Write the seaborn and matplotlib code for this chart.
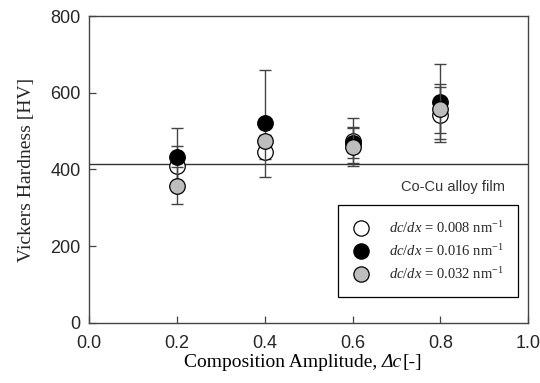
import matplotlib
matplotlib.use("Agg")
import matplotlib.pyplot as plt
import seaborn as sns
import pandas as pd
import numpy as np
from matplotlib.lines import Line2D
from matplotlib.offsetbox import TextArea, HPacker, AnchoredOffsetbox

# ---- data ----
amplitude = [0.2, 0.4, 0.6, 0.8]
series_labels = ["0.008", "0.016", "0.032"]
hv_008 = [410, 445, 475, 543]
err_008 = [50, 18, 58, 72]
hv_016 = [432, 520, 470, 577]
err_016 = [75, 140, 41, 98]
hv_032 = [358, 475, 458, 559]
err_032 = [48, 15, 50, 65]
film_hv = 414
x_ticks = [0.0, 0.2, 0.4, 0.6, 0.8, 1.0]
y_ticks = [0, 200, 400, 600, 800]

sns.set_theme(style="ticks")
plt.rcParams["mathtext.fontset"] = "custom"
plt.rcParams["mathtext.rm"] = "Liberation Serif"
plt.rcParams["mathtext.it"] = "Liberation Serif:italic"

fig = plt.figure(figsize=(5.4, 3.83), dpi=100)
ax = fig.add_axes([0.165, 0.157, 0.813, 0.801])

rows = []
for lab, vals, errs in [("0.008", hv_008, err_008), ("0.016", hv_016, err_016), ("0.032", hv_032, err_032)]:
    for a, v, e in zip(amplitude, vals, errs):
        rows.append({"amp": a, "hv": v, "err": e, "series": lab})
df = pd.DataFrame(rows)

colors = {"0.008": "white", "0.016": "black", "0.032": "#bdbdbd"}
ax.axhline(film_hv, color="#333333", lw=1.0, zorder=1)

z = 3
for lab in series_labels:
    sub = df[df.series == lab]
    ax.errorbar(sub.amp, sub.hv, yerr=sub.err, fmt="none", ecolor="#444444",
                elinewidth=1.0, capsize=4, capthick=1.0, zorder=z)
    sns.scatterplot(data=sub, x="amp", y="hv", ax=ax, color=colors[lab],
                    edgecolor="black", linewidth=0.9, s=125, zorder=z + 1,
                    legend=False)
    z += 2

ax.set_xlim(0, 1.0)
ax.set_ylim(0, 800)
ax.set_xticks(x_ticks)
ax.set_xticklabels([f"{t:.1f}" for t in x_ticks], fontfamily="Liberation Sans", fontsize=13)
ax.set_yticks(y_ticks)
ax.set_yticklabels([str(t) for t in y_ticks], fontfamily="Liberation Sans", fontsize=13)
ax.tick_params(direction="in", length=5, width=0.9, color="#444444")
ax.tick_params(axis="x", pad=9)
ax.tick_params(axis="y", pad=6)
for sp in ax.spines.values():
    sp.set_visible(True)
    sp.set_color("#444444")
    sp.set_linewidth(1.0)

ax.set_xlabel("")
ax.set_ylabel("Vickers Hardness [HV]", fontfamily="Liberation Serif", fontsize=14, labelpad=11)

# x label composed of upright and italic parts
serif = {"family": "Liberation Serif", "size": 14, "color": "black"}
parts = [TextArea("Composition Amplitude, ", textprops=serif),
         TextArea("Δc", textprops=dict(serif, style="italic")),
         TextArea("[-]", textprops=serif)]
box = HPacker(children=parts, align="baseline", pad=0, sep=0)
anch = AnchoredOffsetbox(loc="center", child=box, pad=0, frameon=False,
                         bbox_to_anchor=(0.487, -0.13), bbox_transform=ax.transAxes,
                         borderpad=0)
ax.add_artist(anch)

ax.text(0.948, 0.443, "Co-Cu alloy film", transform=ax.transAxes, ha="right", va="center",
        fontfamily="Liberation Sans", fontsize=10.5, color="#333333")

handles = [Line2D([], [], ls="none", marker="o", markersize=11, markerfacecolor=colors[l],
                  markeredgecolor="black", markeredgewidth=0.9) for l in series_labels]
labels = [rf"$dc/dx$ = {l} nm$^{{-1}}$" for l in series_labels]
leg = ax.legend(handles, labels, loc="lower right", bbox_to_anchor=(0.977, 0.085),
                frameon=True, fancybox=False, edgecolor="black", framealpha=1,
                prop={"family": "Liberation Serif", "size": 10.5}, handletextpad=1.3,
                borderpad=1.0, labelspacing=0.5, handlelength=1.2, borderaxespad=0)
leg.get_frame().set_linewidth(0.9)

fig.savefig("out.png", dpi=100)
